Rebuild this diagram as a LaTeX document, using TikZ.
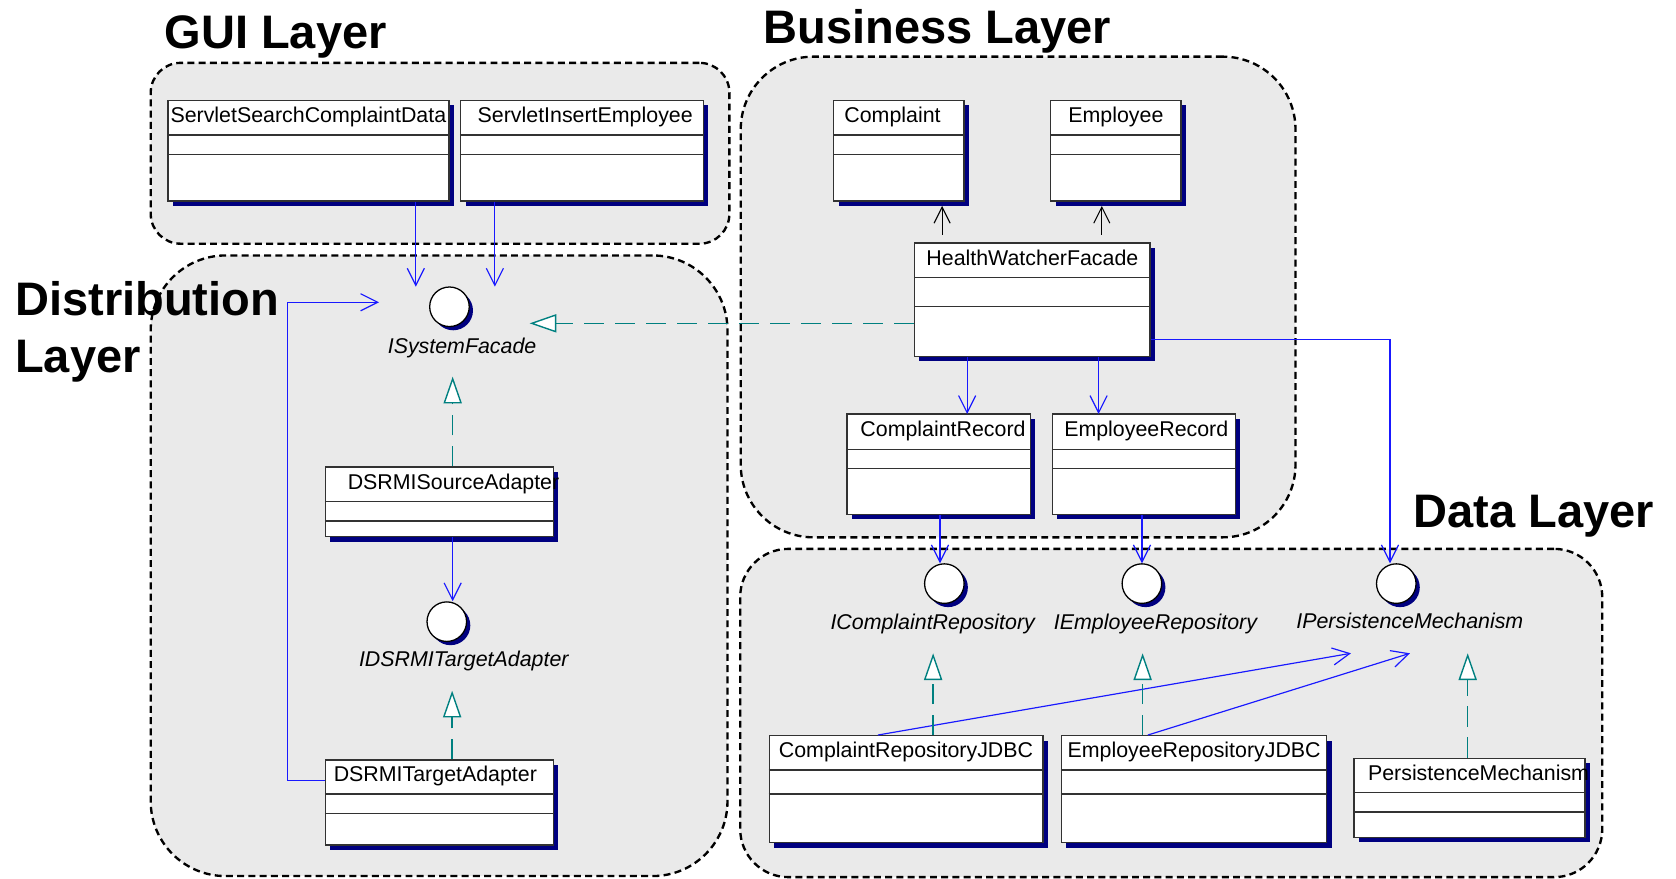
\documentclass[tikz,border=0pt]{standalone}
\usepackage{fontspec}
\setmainfont{Liberation Sans}
\usetikzlibrary{arrows.meta,fit,shadows}

\definecolor{layergray}{RGB}{234,234,234}
\definecolor{shadownavy}{RGB}{0,0,128}
\definecolor{useblue}{RGB}{25,25,255}
\definecolor{realteal}{RGB}{0,128,128}
\definecolor{boxgray}{RGB}{50,50,50}

\tikzset{
    layerbox/.style =   {rectangle,
                        rounded corners=#1,
                        fill=layergray,
                        draw=black,
                        line width=2.2pt,
                        dash pattern=on 6.5pt off 4pt,
                        inner sep=0pt},
    layerbox/.default = 40pt,
    layertitle/.style = {font=\fontsize{44}{53}\selectfont\bfseries,
                        text=black,
                        align=left,
                        inner sep=0pt},
    umlbox/.style =     {rectangle,
                        fill=white,
                        draw=boxgray,
                        line width=1.3pt,
                        inner sep=0pt,
                        drop shadow={shadow xshift=4.5pt,
                                     shadow yshift=-4.5pt,
                                     fill=shadownavy,
                                     opacity=1}},
    compartment/.style = {draw=boxgray,
                        line width=1.2pt},
    classname/.style =  {font=\fontsize{20}{24}\selectfont,
                        text=black,
                        text height=14pt,
                        text depth=4pt,
                        inner sep=0pt},
    iface/.style =      {circle,
                        fill=white,
                        draw=black,
                        line width=1.2pt,
                        minimum size=37pt,
                        inner sep=0pt,
                        drop shadow={shadow xshift=3.5pt,
                                     shadow yshift=-3.5pt,
                                     fill=shadownavy,
                                     opacity=1}},
    ifacename/.style =  {font=\fontsize{20}{24}\selectfont\itshape,
                        text=black,
                        text height=14pt,
                        text depth=4pt,
                        inner sep=0pt},
    usage/.style =      {draw=useblue,
                        line width=1.1pt,
                        -{Straight Barb[length=16pt,width=16pt]}},
    dependency/.style = {draw=black,
                        line width=1pt,
                        -{Straight Barb[length=15pt,width=15pt]}},
    realize/.style =    {draw=realteal,
                        line width=1.3pt,
                        dash pattern=on 19pt off 10pt,
                        -{Triangle[length=25pt,width=17pt,fill=white]}}
}

% class box: [name options]{id}{corner}{corner}{first line}{second line}{name}
\newcommand{\umlclass}[7][]{%
    \node[umlbox, fit={#3 #4}] (#2) {};
    \draw[compartment] (#2.west |- 0,#5) -- (#2.east |- 0,#5);
    \draw[compartment] (#2.west |- 0,#6) -- (#2.east |- 0,#6);
    \path (#2.north) -- (#2.north |- 0,#5) node[midway, classname, #1] {#7};
}

\begin{document}
\begin{tikzpicture}[x=1pt, y=-1pt]
    \useasboundingbox (0,0) rectangle (1568,822);

    % layers
    \node[layerbox=28pt, fit={(141,58.8) (682.4,228)}]      (gui)  {};
    \node[layerbox=70pt, fit={(141,239) (680.6,819.6)}]     (dist) {};
    \node[layerbox=68pt, fit={(693,53) (1212,502.7)}]       (bus)  {};
    \node[layerbox=45pt, fit={(692.5,513.5) (1499,820.6)}]  (data) {};

    \node[layertitle, anchor=base west]  (guititle)  at (153.7,45.2)   {GUI Layer};
    \node[layertitle, anchor=base west]  (bustitle)  at (714.1,40.5)   {Business Layer};
    \node[layertitle, anchor=north west] (disttitle) at (14,263.5)     {Distribution\\Layer};
    \node[layertitle, anchor=base west]  (datatitle) at (1322.2,493.7) {Data Layer};

    % classes
    \umlclass{ssc}{(157,94)}{(420,188)}{126.3}{144.4}{ServletSearchComplaintData}
    \umlclass[xshift=3pt]{sie}{(431,94)}{(658,188)}{126.3}{144.4}{ServletInsertEmployee}
    \umlclass[xshift=-6pt]{cpl}{(780,94)}{(902,188)}{126.3}{144.4}{Complaint}
    \umlclass{emp}{(983,94)}{(1105,188)}{126.3}{144.4}{Employee}
    \umlclass{hwf}{(855.7,227.3)}{(1076,333.4)}{259.4}{286.9}{HealthWatcherFacade}
    \umlclass[xshift=4pt]{crec}{(792.5,387.3)}{(964,481.5)}{420.4}{438.5}{ComplaintRecord}
    \umlclass[xshift=2pt]{erec}{(984.8,387.3)}{(1156,481.5)}{420.4}{438.5}{EmployeeRecord}
    \umlclass[xshift=13pt]{dsa}{(304.6,436.9)}{(518,502.1)}{469.3}{487.4}{DSRMISourceAdapter}
    \umlclass[xshift=-4pt]{dta}{(304.6,711)}{(518,790.5)}{742.8}{760.9}{DSRMITargetAdapter}
    \umlclass{crj}{(719.7,688.3)}{(975.6,788.4)}{720.4}{742.8}{ComplaintRepositoryJDBC}
    \umlclass{erj}{(993.2,688.3)}{(1241.2,788.4)}{720.4}{742.8}{EmployeeRepositoryJDBC}
    \umlclass[xshift=8.5pt]{pm}{(1266.7,709.4)}{(1482.8,783.3)}{741.6}{759.6}{PersistenceMechanism}

    % interfaces
    \node[iface] (isf) at (420.5,287)   {};
    \node[iface] (idt) at (418,581.6)   {};
    \node[iface] (icr) at (883.5,546)   {};
    \node[iface] (ier) at (1068.3,546)  {};
    \node[iface] (ipm) at (1306.3,546)  {};
    \node[ifacename] (isfname) at (432.3,326)  {ISystemFacade};
    \node[ifacename] (idtname) at (433.9,619)  {IDSRMITargetAdapter};
    \node[ifacename] (icrname) at (872.6,584)  {IComplaintRepository};
    \node[ifacename] (iername) at (1081,584)   {IEmployeeRepository};
    \node[ifacename] (ipmname) at (1319,583)   {IPersistenceMechanism};

    % free ends
    \coordinate (sscEnd)  at (389,268.2);
    \coordinate (sieEnd)  at (463,268.2);
    \coordinate (dtaBend) at (269.1,282.8);
    \coordinate (dtaEnd)  at (354.6,282.8);
    \coordinate (hwfEnd)  at (495.5,302.5);
    \coordinate (dsaEnd)  at (423.5,352.4);
    \coordinate (dtaUp)   at (423,646.2);
    \coordinate (cplDep)  at (881.4,192.7);
    \coordinate (empDep)  at (1030.8,192.7);
    \coordinate (crecIn)  at (904.8,387.3);
    \coordinate (erecIn)  at (1027.8,387.3);
    \coordinate (ipmIn)   at (1300.4,527);
    \coordinate (icrIn)   at (879.4,527);
    \coordinate (ierIn)   at (1068.4,527);
    \coordinate (ipmA)    at (1263.9,611.2);
    \coordinate (ipmB)    at (1319.1,611.2);
    \coordinate (icrUp)   at (873,611.2);
    \coordinate (ierUp)   at (1069,611.2);
    \coordinate (ipmUp)   at (1373.1,611.2);

    % connectors
    \draw[usage] (ssc.south -| sscEnd) -- (sscEnd);
    \draw[usage] (sie.south -| sieEnd) -- (sieEnd);
    \draw[usage] (dta.west |- 0,730.4) -| (dtaBend) -- (dtaEnd);
    \draw[usage] (dsa.south -| dsaEnd) -- (idt.north -| dsaEnd);
    \draw[usage] (hwf.south -| crecIn) -- (crecIn);
    \draw[usage] (hwf.south -| erecIn) -- (erecIn);
    \draw[usage] (hwf.east |- 0,317.4) -| (ipmIn);
    \draw[usage] (crec.south -| icrIn) -- (icrIn);
    \draw[usage] (erec.south -| ierIn) -- (ierIn);
    \draw[usage] (crj.north -| 821.3,0) -- (ipmA);
    \draw[usage] (erj.north -| 1073.9,0) -- (ipmB);

    \draw[dependency, shorten <=7pt] (hwf.north -| cplDep) -- (cplDep);
    \draw[dependency, shorten <=7pt] (hwf.north -| empDep) -- (empDep);

    \draw[realize] (hwf.west |- hwfEnd) -- (hwfEnd);
    \draw[realize] (dsa.north -| dsaEnd) -- (dsaEnd);
    \draw[realize] (dta.north -| dtaUp) -- (dtaUp);
    \draw[realize] (crj.north -| icrUp) -- (icrUp);
    \draw[realize] (erj.north -| ierUp) -- (ierUp);
    \draw[realize] (pm.north -| ipmUp) -- (ipmUp);
\end{tikzpicture}
\end{document}
